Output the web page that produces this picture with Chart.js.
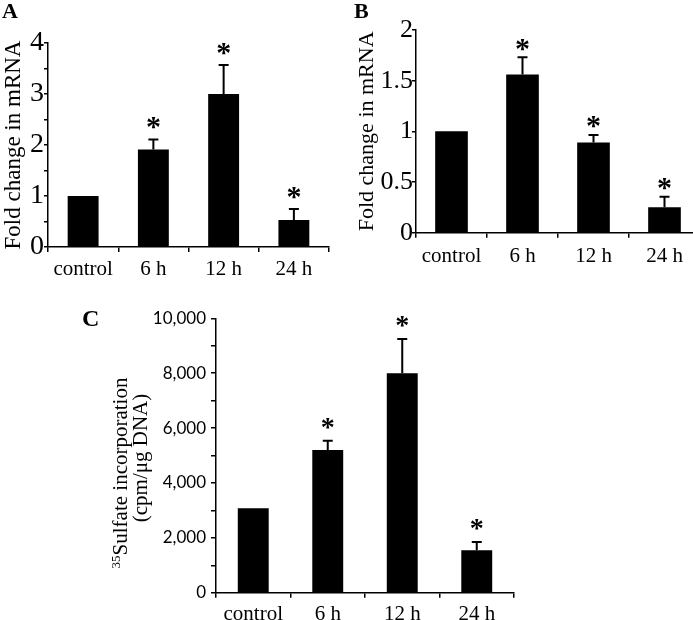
<!DOCTYPE html>
<html>
<head>
<meta charset="utf-8">
<title>mRNA and sulfate incorporation</title>
<script src="https://cdn.jsdelivr.net/npm/chart.js@4.4.0/dist/chart.umd.min.js"></script>
<style>
    html, body { margin: 0; padding: 0; background: #fff; overflow: hidden; }
    body { width: 693px; height: 620px; position: relative; }
    .panel { position: absolute; }
</style>
</head>
<body>
<div class="panel" style="left:0;top:0;width:340px;height:290px"><canvas id="chart-a" width="340" height="290"></canvas></div>
<div class="panel" style="left:340px;top:0;width:360px;height:290px"><canvas id="chart-b" width="360" height="290"></canvas></div>
<div class="panel" style="left:60px;top:300px;width:480px;height:320px"><canvas id="chart-c" width="480" height="320"></canvas></div>
<script>
// Data
const categories = ['control', '6 h', '12 h', '24 h'];
const significant = [false, true, true, true];

// Panel A - fold change in mRNA
const mrnaA = [1, 1.91, 3.0, 0.53];
const mrnaAErr = [0, 0.2, 0.57, 0.215];

// Panel B - fold change in mRNA
const mrnaB = [1, 1.56, 0.89, 0.25];
const mrnaBErr = [0, 0.17, 0.075, 0.105];

// Panel C - 35S sulfate incorporation (cpm/ug DNA)
const sulfateC = [3080, 5200, 8000, 1550];
const sulfateCErr = [0, 340, 1250, 300];

// Text
const mrnaTitle = 'Fold change in mRNA';
const sulfateIsotope = '35';
const sulfateTitle = 'Sulfate incorporation';
const sulfateUnit = '(cpm/\u03bcg DNA)';

const serif = "'Liberation Serif', 'Times New Roman', serif";

Chart.defaults.color = '#000';
Chart.defaults.font.family = serif;

// Error bars, asterisks and the panel letter
const decorPlugin = {
    id: 'decor',
    afterDatasetsDraw(chart, args, opts) {
        const ctx = chart.ctx;
        const meta = chart.getDatasetMeta(0);
        const yScale = chart.scales.y;
        const values = chart.data.datasets[0].data;
        ctx.save();
        ctx.strokeStyle = '#000';
        ctx.fillStyle = '#000';
        ctx.lineWidth = 2;
        meta.data.forEach((bar, i) => {
            const err = opts.errors[i];
            if (!err) return;
            const top = yScale.getPixelForValue(values[i] + err);
            ctx.beginPath();
            ctx.moveTo(bar.x, bar.y);
            ctx.lineTo(bar.x, top);
            ctx.moveTo(bar.x - opts.capHalf, top);
            ctx.lineTo(bar.x + opts.capHalf, top);
            ctx.stroke();
            if (opts.marks[i]) {
                ctx.font = opts.starFont;
                ctx.textAlign = 'center';
                ctx.textBaseline = 'alphabetic';
                const m = ctx.measureText('*');
                const cy = top - opts.starGap;
                ctx.fillText('*', bar.x, cy + (m.actualBoundingBoxAscent - m.actualBoundingBoxDescent) / 2);
            }
        });
        ctx.font = opts.letterFont;
        ctx.textAlign = 'left';
        ctx.textBaseline = 'alphabetic';
        ctx.fillText(opts.letter, opts.letterX, opts.letterY);
        ctx.restore();
    }
};

// Two line rotated title with a superscript for panel C
const sulfateTitlePlugin = {
    id: 'sulfateTitle',
    afterDraw(chart) {
        const ctx = chart.ctx;
        const mainFont = '21px ' + serif;
        const supFont = '13px ' + serif;
        ctx.save();
        ctx.fillStyle = '#000';
        ctx.textBaseline = 'alphabetic';
        ctx.textAlign = 'left';

        ctx.save();
        ctx.translate(67, 173);
        ctx.rotate(-Math.PI / 2);
        ctx.font = supFont;
        const supW = ctx.measureText(sulfateIsotope).width;
        ctx.font = mainFont;
        const mainW = ctx.measureText(sulfateTitle).width;
        const x0 = -(supW + mainW) / 2;
        ctx.font = supFont;
        ctx.fillText(sulfateIsotope, x0, -7);
        ctx.font = mainFont;
        ctx.fillText(sulfateTitle, x0 + supW, 0);
        ctx.restore();

        ctx.save();
        ctx.translate(87, 158);
        ctx.rotate(-Math.PI / 2);
        ctx.font = mainFont;
        ctx.textAlign = 'center';
        ctx.fillText(sulfateUnit, 0, 0);
        ctx.restore();

        ctx.restore();
    }
};

function axisLines(tickLength, extra) {
    return Object.assign({
        grid: { drawOnChartArea: false, drawTicks: true, tickLength: tickLength, color: '#000', lineWidth: 1.5 },
        border: { display: true, color: '#000', width: 1.5 }
    }, extra);
}

function buildChart(id, cfg) {
    return new Chart(document.getElementById(id).getContext('2d'), {
        type: 'bar',
        data: {
            labels: categories,
            datasets: [{
                data: cfg.values,
                backgroundColor: '#000',
                borderWidth: 0,
                barPercentage: cfg.barPct,
                categoryPercentage: 1
            }]
        },
        options: {
            responsive: false,
            animation: false,
            devicePixelRatio: 1,
            layout: { padding: cfg.padding },
            plugins: {
                legend: { display: false },
                tooltip: { enabled: false },
                decor: cfg.decor
            },
            scales: {
                x: axisLines(5, {
                    ticks: { font: { size: cfg.xFont }, padding: cfg.xPad, color: '#000' },
                    afterFit: s => { s.height = cfg.xHeight; }
                }),
                y: axisLines(cfg.yTick, {
                    min: 0,
                    max: cfg.yMax,
                    ticks: {
                        stepSize: cfg.step,
                        autoSkip: false,
                        font: cfg.yFont,
                        padding: cfg.yPad,
                        color: '#000',
                        callback: cfg.yLabel
                    },
                    title: cfg.yTitle,
                    afterFit: s => { s.width = cfg.yWidth; }
                })
            }
        },
        plugins: cfg.plugins
    });
}

// Panel A
buildChart('chart-a', {
    values: mrnaA,
    barPct: 0.44,
    padding: { left: 0, top: 43, right: 11, bottom: 0 },
    xHeight: 43, xFont: 21, xPad: 5,
    yMax: 4, step: 0.5, yWidth: 48, yPad: 0, yTick: 4,
    yFont: { size: 28 },
    yLabel: v => (Number.isInteger(v) ? String(v) : ''),
    yTitle: { display: true, text: mrnaTitle, font: { size: 23 }, padding: 0, color: '#000' },
    decor: { errors: mrnaAErr, marks: significant, capHalf: 5, starGap: 16,
             starFont: 'bold 30px ' + serif, letter: 'A', letterFont: 'bold 22px ' + serif, letterX: 2, letterY: 18 },
    plugins: [decorPlugin]
});

// Panel B
buildChart('chart-b', {
    values: mrnaB,
    barPct: 0.46,
    padding: { left: 14, top: 30, right: 0, bottom: 0 },
    xHeight: 57.3, xFont: 21, xPad: 6,
    yMax: 2, step: 0.5, yWidth: 62, yPad: -1, yTick: 4,
    yFont: { size: 26 },
    yLabel: v => String(v),
    yTitle: { display: true, text: mrnaTitle, font: { size: 22 }, padding: 0, color: '#000' },
    decor: { errors: mrnaBErr, marks: significant, capHalf: 5, starGap: 12.5,
             starFont: 'bold 30px ' + serif, letter: 'B', letterFont: 'bold 22px ' + serif, letterX: 14, letterY: 18 },
    plugins: [decorPlugin]
});

// Panel C
buildChart('chart-c', {
    values: sulfateC,
    barPct: 0.415,
    padding: { left: 0, top: 18.3, right: 26, bottom: 0 },
    xHeight: 27.3, xFont: 21, xPad: 4,
    yMax: 10000, step: 1000, yWidth: 156, yPad: 5, yTick: 5,
    yFont: { size: 17, family: "Lato, 'Open Sans', sans-serif" },
    yLabel: v => (v % 2000 === 0 ? v.toLocaleString('en-US') : ''),
    yTitle: { display: false },
    decor: { errors: sulfateCErr, marks: significant, capHalf: 5, starGap: 17,
             starFont: 'bold 28px ' + serif, letter: 'C', letterFont: 'bold 24px ' + serif, letterX: 22, letterY: 26 },
    plugins: [decorPlugin, sulfateTitlePlugin]
});
</script>
</body>
</html>
